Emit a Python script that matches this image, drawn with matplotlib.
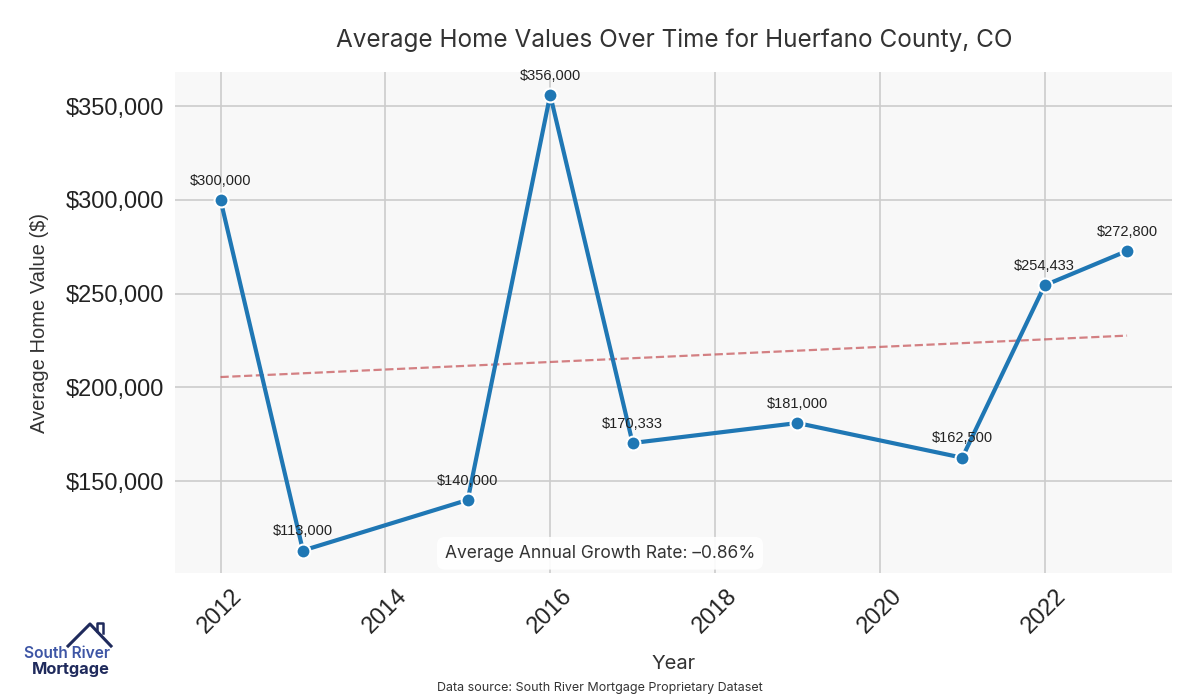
import numpy as np
import matplotlib.pyplot as plt
from matplotlib.ticker import FuncFormatter
from matplotlib.lines import Line2D

years = [2012, 2013, 2015, 2016, 2017, 2019, 2021, 2022, 2023]
values = [300000, 113000, 140000, 356000, 170333, 181000, 162500, 254433, 272800]
growth_rate = -0.86

title_font = "Inter"
label_font = "Liberation Sans"

fig = plt.figure(figsize=(12, 7), dpi=100)
ax = fig.add_axes([0.146, 0.181, 0.831, 0.716])
ax.set_facecolor("#f8f8f8")
for s in ax.spines.values():
    s.set_visible(False)
ax.grid(True, color="#cccccc", linewidth=1.2)
ax.set_axisbelow(True)

# trend line
x = np.array(years)
y = np.array(values)
k, b = np.polyfit(x, y, 1)
ax.plot(x, k * x + b, linestyle="--", color="#c44e52", alpha=0.7, linewidth=1.6)

ax.plot(years, values, color="#1f77b4", linewidth=3, marker="o", markersize=10,
        markeredgecolor="white", markeredgewidth=1.5, zorder=3)

for xi, yi in zip(years, values):
    ax.annotate(f"${yi:,.0f}", (xi, yi), xytext=(0, 11), textcoords="offset points",
                ha="center", fontsize=10.5, family=label_font, color="#222222")

ax.yaxis.set_major_formatter(FuncFormatter(lambda v, p: f"${v:,.0f}"))
ax.tick_params(axis="both", length=0, labelsize=17, labelcolor="#222222", pad=8)
for lab in ax.get_yticklabels():
    lab.set_family(label_font)
plt.setp(ax.get_xticklabels(), rotation=45, family=label_font)

ax.set_xlabel("Year", fontsize=14.5, family=title_font, color="#333333", labelpad=13)
ax.set_ylabel("Average Home Value ($)", fontsize=14.5, family=label_font, color="#333333",
              labelpad=12)
ax.set_title("Average Home Values Over Time for Huerfano County, CO", fontsize=17.5,
             family=title_font, color="#333333", pad=18)

ax.text(0.426, 0.04, f"Average Annual Growth Rate: {growth_rate:.2f}%".replace("-", "\u2013"),
        transform=ax.transAxes, ha="center", va="center", fontsize=12.5,
        family=title_font, color="#333333",
        bbox=dict(boxstyle="round,pad=0.45", facecolor="white", edgecolor="none", alpha=0.9))

fig.text(0.5, 0.013, "Data source: South River Mortgage Proprietary Dataset",
         ha="center", fontsize=9, family=title_font, color="#333333")

# logo
fig.text(0.0917, 0.067, "South River", fontsize=11.2, family=title_font, color="#3d55a5",
         fontweight="semibold", ha="right", va="center")
fig.text(0.0917, 0.044, "Mortgage", fontsize=11.8, family=title_font, color="#1f2a5c",
         fontweight="bold", ha="right", va="center")
fig.add_artist(Line2D([0.0567, 0.075, 0.0925], [0.0771, 0.1086, 0.0771], color="#1f2a5c",
                      linewidth=2.2, transform=fig.transFigure))
fig.add_artist(Line2D([0.0808, 0.0808, 0.0858, 0.0858], [0.0986, 0.11, 0.11, 0.0957],
                      color="#1f2a5c", linewidth=1.8, transform=fig.transFigure))

fig.savefig("out.png", dpi=100)
